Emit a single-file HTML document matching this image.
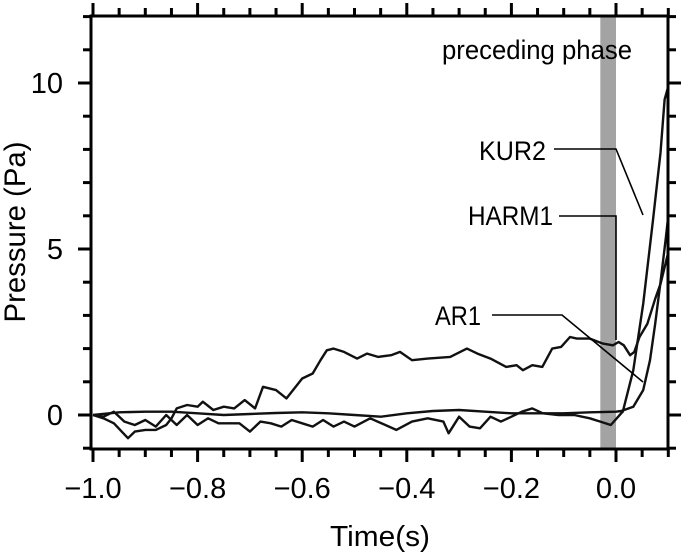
<!DOCTYPE html>
<html><head><meta charset="utf-8"><style>
html,body{margin:0;padding:0;background:#fff;}
svg{display:block;font-family:"Liberation Sans",sans-serif;}
</style></head><body>
<svg id="chart" width="685" height="556" viewBox="0 0 685 556" xmlns="http://www.w3.org/2000/svg">
<defs><clipPath id="plotclip"><rect x="92" y="16" width="576" height="432"/></clipPath></defs>
<rect x="601" y="16" width="15" height="432" fill="#a3a3a3" id="band"/>
<g id="series" clip-path="url(#plotclip)"></g>
<g id="axes"></g>
<g id="annot"></g>
<text x="380" y="546" font-size="29" text-anchor="middle" textLength="100" lengthAdjust="spacingAndGlyphs">Time(s)</text>
<text transform="translate(25,232) rotate(-90)" font-size="30" text-anchor="middle" textLength="181" lengthAdjust="spacingAndGlyphs">Pressure (Pa)</text>
</svg>
<script>
const xTicks = [-1.0,-0.8,-0.6,-0.4,-0.2,0.0];
const xTickLabels = ["\u22121.0","\u22120.8","\u22120.6","\u22120.4","\u22120.2","0.0"];
const yTicks = [0,5,10];
const yTickLabels = ["0","5","10"];
const bandRange = [-0.03,0.0];
const elevT = [-1.0,-0.98,-0.96,-0.933,-0.92,-0.9,-0.88,-0.86,-0.85,-0.84,-0.82,-0.8,-0.79,-0.77,-0.75,-0.73,-0.71,-0.69,-0.675,-0.65,-0.63,-0.6,-0.58,-0.565,-0.553,-0.54,-0.52,-0.495,-0.476,-0.455,-0.43,-0.413,-0.39,-0.36,-0.317,-0.285,-0.265,-0.24,-0.21,-0.19,-0.178,-0.16,-0.141,-0.122,-0.105,-0.088,-0.075,-0.05,-0.025,-0.006,0.005,0.015,0.027,0.035,0.045,0.06,0.075,0.085,0.1];
const elevV = [0,-0.1,-0.25,-0.7,-0.5,-0.45,-0.45,-0.3,-0.1,0.2,0.3,0.25,0.4,0.15,0.25,0.2,0.45,0.2,0.85,0.75,0.5,1.1,1.25,1.65,1.95,2.0,1.9,1.7,1.85,1.75,1.8,1.9,1.65,1.7,1.75,2.0,1.85,1.7,1.45,1.5,1.35,1.5,1.45,2.0,2.05,2.35,2.3,2.3,2.15,2.1,2.2,2.1,1.8,1.9,2.35,2.75,3.5,3.95,4.9];
const lowT = [-1.0,-0.98,-0.96,-0.94,-0.92,-0.9,-0.88,-0.86,-0.84,-0.82,-0.8,-0.78,-0.76,-0.72,-0.7,-0.68,-0.66,-0.64,-0.62,-0.6,-0.58,-0.56,-0.54,-0.52,-0.5,-0.47,-0.42,-0.39,-0.36,-0.33,-0.32,-0.3,-0.28,-0.26,-0.24,-0.22,-0.2,-0.18,-0.16,-0.14,-0.11,-0.08,-0.05,-0.03,-0.01,0.01,0.013,0.033,0.052,0.071,0.085,0.093,0.1];
const lowV = [0,-0.05,0.1,-0.2,-0.3,-0.15,-0.35,0,-0.3,0,-0.3,-0.1,-0.25,-0.25,-0.5,-0.2,-0.25,-0.35,-0.15,-0.25,-0.35,-0.15,-0.35,-0.2,-0.35,-0.1,-0.45,-0.2,-0.1,-0.2,-0.55,-0.05,-0.35,-0.4,-0.05,-0.2,-0.05,0.1,0.2,0.05,0,0,-0.1,-0.2,-0.3,0.05,0.1,1.35,3.35,5.9,7.9,9.5,9.9];
const smoothT = [-1.0,-0.95,-0.9,-0.85,-0.8,-0.75,-0.7,-0.65,-0.6,-0.55,-0.5,-0.45,-0.4,-0.35,-0.3,-0.25,-0.2,-0.15,-0.1,-0.05,0.0,0.01,0.033,0.052,0.065,0.075,0.085,0.095,0.1];
const smoothV = [0,0.08,0.1,0.1,0.05,0,0.03,0.06,0.08,0.05,0,-0.05,0.05,0.12,0.15,0.1,0.05,0.05,0.05,0.08,0.1,0.12,0.25,0.75,1.65,2.75,4.0,5.3,6.0];
const NS="http://www.w3.org/2000/svg";
const X0=93, PX=523, Y0=415, PY=33.2;
function xs(t){return X0+(t+1)*PX;}
function ys(v){return Y0-v*PY;}
function mk(tag,attrs,parent){const e=document.createElementNS(NS,tag);for(const k in attrs)e.setAttribute(k,attrs[k]);parent.appendChild(e);return e;}
const band=document.getElementById('band');
band.setAttribute('x',xs(bandRange[0]));band.setAttribute('width',xs(bandRange[1])-xs(bandRange[0]));
const sg=document.getElementById('series');
function line(T,V,name){
  const d=T.map((t,i)=>(i?'L':'M')+xs(t).toFixed(1)+','+ys(V[i]).toFixed(1)).join('');
  const p=mk('path',{d:d,fill:'none',stroke:'#111','stroke-width':2.4,'stroke-linejoin':'round'},sg);
  
  
}
line(elevT,elevV,'series-elevated-line');
line(lowT,lowV,'series-low-line');
line(smoothT,smoothV,'series-smooth-line');
const ax=document.getElementById('axes');
const L=91,R=668,T=16,B=449;
mk('rect',{x:L,y:T,width:R-L,height:B-T,fill:'none',stroke:'#000','stroke-width':3},ax);
for(let k=0;k<=22;k++){
  const t=-1+k*0.05, x=xs(t), major=(k%4===0)||k===20;
  const len=major?13:8;
  mk('line',{x1:x,y1:B,x2:x,y2:B+len,stroke:'#000','stroke-width':3},ax);
  mk('line',{x1:x,y1:T,x2:x,y2:T-len,stroke:'#000','stroke-width':3},ax);
}
for(let v=-1;v<=12;v++){
  const y=ys(v), major=(v%5===0), len=major?13:8;
  mk('line',{x1:L,y1:y,x2:L-len,y2:y,stroke:'#000','stroke-width':3},ax);
  mk('line',{x1:R,y1:y,x2:R+len,y2:y,stroke:'#000','stroke-width':3},ax);
}
xTicks.forEach((t,i)=>{
  const e=mk('text',{x:xs(t),y:498,'font-size':29,'text-anchor':'middle'},ax);
  e.textContent=xTickLabels[i];
  
  
});
yTicks.forEach((v,i)=>{
  const e=mk('text',{x:63,y:ys(v)+10,'font-size':29,'text-anchor':'end'},ax);
  e.textContent=yTickLabels[i];
  
  
});
const an=document.getElementById('annot');
function label(txt,x,y,name,len,anchor){const e=mk('text',{x:x,y:y,'font-size':27,'text-anchor':anchor||'end',textLength:len,lengthAdjust:'spacingAndGlyphs'},an);e.textContent=txt;}
label('preceding phase',537,59,'preceding-phase-label',190,'middle');
label('KUR2',546,160,'kur2-label',67);
label('HARM1',553,225,'harm1-label',85);
label('AR1',481,325,'ar1-label',46);
function lead(pts,name){const p=mk('polyline',{points:pts,fill:'none',stroke:'#000','stroke-width':1.6},an);}
lead('554,149 616,149 643,215','kur2-leader');
lead('559,216 616,216 616,340','harm1-leader');
lead('492,315 562,315 643,382','ar1-leader');
</script>
</body></html>
